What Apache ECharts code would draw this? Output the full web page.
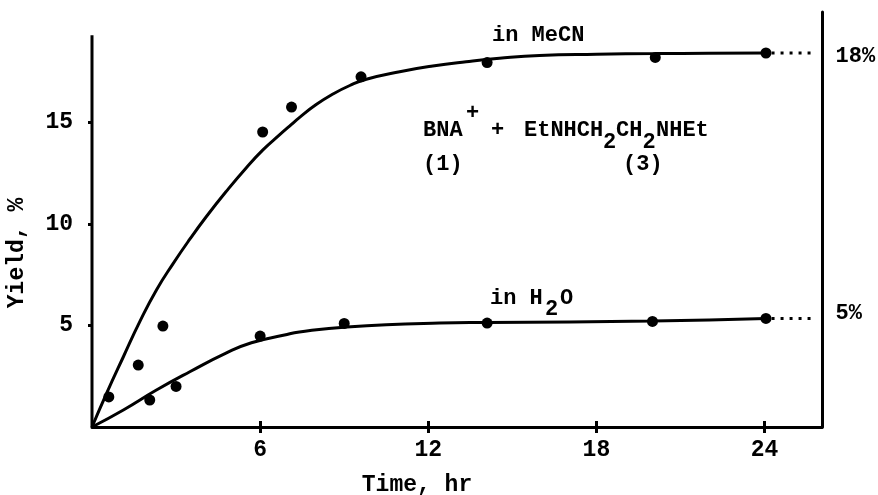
<!DOCTYPE html>
<html>
<head>
<meta charset="utf-8">
<script src="https://cdn.jsdelivr.net/npm/echarts@6/dist/echarts.min.js"></script>
<style>
html, body { margin: 0; padding: 0; background: #fff; }
#chart { width: 878px; height: 495px; }
</style>
</head>
<body>
<div id="chart"></div>
<script>
// measured yields (%), time in hr
var mecnPoints = [[0.6, 1.48], [1.65, 3.05], [2.53, 4.97], [6.09, 14.53], [7.12, 15.76], [9.6, 17.25], [14.1, 17.95], [20.1, 18.2], [24.05, 18.42]];
var h2oPoints = [[2.06, 1.33], [3.0, 2.0], [6.0, 4.48], [9.0, 5.1], [14.1, 5.12], [20.0, 5.2], [24.05, 5.35]];

// the hand-drawn curves
var mecnCurve = [[0, 0], [0.52, 1.66], [1.12, 3.46], [1.71, 5.2], [2.3, 6.75], [2.9, 8.06], [3.49, 9.25], [4.09, 10.38], [4.8, 11.62], [5.5, 12.76], [6.1, 13.65], [6.7, 14.4], [7.05, 14.82], [7.41, 15.25], [8.0, 15.88], [8.6, 16.4], [9.2, 16.82], [9.79, 17.13], [10.98, 17.5], [12.16, 17.78], [13.35, 17.99], [14.54, 18.16], [15.97, 18.3], [18.0, 18.36], [20.1, 18.39], [22.0, 18.41], [24.05, 18.42]];
var h2oCurve = [[0, 0], [1.12, 0.84], [2.3, 1.82], [3.49, 2.72], [4.8, 3.65], [5.69, 4.15], [6.87, 4.53], [7.4, 4.68], [9.1, 4.93], [12.4, 5.12], [14.1, 5.15], [20.0, 5.22], [24.05, 5.35]];

// limiting yields, dotted out to the right axis
var finalYields = [18.42, 5.35];
var finalLabels = ['18%', '5%'];

var xTicks = [6, 12, 18, 24];
var yTicks = [5, 10, 15];
var xMax = 26.05;
var yMax = 20.44;
var leftAxisTop = 19.3;

var FONT = 'Liberation Mono, Courier New, monospace';
var ink = '#000';

function txt(str, x, y, size, opts) {
  opts = opts || {};
  var el = {
    type: 'text', x: x, y: y, silent: true,
    style: {
      text: str, fill: ink,
      font: 'bold ' + (size || 22) + 'px ' + FONT,
      align: opts.align || 'left', verticalAlign: 'middle',
      textAlign: opts.align || 'left', textVerticalAlign: 'middle'
    }
  };
  if (opts.rotation) el.rotation = opts.rotation;
  return el;
}

var chart = echarts.init(document.getElementById('chart'));

function dotted(y, label, dy) {
  return {
    type: 'line',
    data: [[24.25, y], [25.75, y]],
    symbol: 'circle', symbolSize: 0,
    label: {
      show: true, position: 'right', distance: 22, offset: [0, dy],
      formatter: function (p) { return p.dataIndex === 1 ? label : ''; },
      color: ink, fontFamily: FONT, fontWeight: 'bold', fontSize: 22
    },
    lineStyle: { color: ink, width: 3, type: [3, 6] },
    itemStyle: { color: ink },
    z: 3
  };
}

function curve(data) {
  return {
    type: 'line', data: data, smooth: 0.5, symbol: 'none',
    lineStyle: { color: ink, width: 3 }
  };
}

function dots(data) {
  return { type: 'scatter', data: data, symbolSize: 11, itemStyle: { color: ink, opacity: 1 }, z: 4 };
}

chart.setOption({
  animation: false,
  backgroundColor: '#fff',
  grid: { left: 92, right: 56, top: 12, bottom: 68 },
  xAxis: [{
    type: 'value', min: 0, max: xMax,
    axisLine: { show: true, onZero: false, lineStyle: { color: ink, width: 3 } },
    axisTick: { show: true, customValues: xTicks, length: 6, lineStyle: { color: ink, width: 3 } },
    axisLabel: { customValues: xTicks, margin: 12, color: ink, fontFamily: FONT, fontWeight: 'bold', fontSize: 23 },
    splitLine: { show: false }
  }, {
    type: 'value', min: 0, max: xMax, position: 'bottom',
    axisLine: { show: false, onZero: false },
    axisTick: { show: true, inside: true, customValues: xTicks, length: 6, lineStyle: { color: ink, width: 3 } },
    axisLabel: { show: false },
    splitLine: { show: false }
  }],
  yAxis: [{
    type: 'value', min: 0, max: yMax, position: 'left',
    axisLine: { show: false, onZero: false },
    axisTick: { show: true, customValues: yTicks, length: 4, lineStyle: { color: ink, width: 3 } },
    axisLabel: { customValues: yTicks, margin: 19, color: ink, fontFamily: FONT, fontWeight: 'bold', fontSize: 23 },
    splitLine: { show: false }
  }, {
    type: 'value', min: 0, max: yMax, position: 'right',
    axisLine: { show: true, onZero: false, lineStyle: { color: ink, width: 3 } },
    axisTick: { show: false },
    axisLabel: { show: false },
    splitLine: { show: false }
  }],
  series: [
    {
      // left axis stops short of the right one
      type: 'line', data: [[0, 0], [0, leftAxisTop]], symbol: 'none',
      lineStyle: { color: ink, width: 3 }
    },
    curve(mecnCurve),
    curve(h2oCurve),
    dots(mecnPoints),
    dots(h2oPoints),
    dotted(finalYields[0], finalLabels[0], 3),
    dotted(finalYields[1], finalLabels[1], -5)
  ],
  graphic: [
    txt('in MeCN', 492, 35),
    txt('BNA', 423, 130),
    txt('+', 466, 113),
    txt('+', 491, 130),
    txt('EtNHCH', 524, 130),
    txt('2', 603, 142),
    txt('CH', 616, 130),
    txt('2', 642.6, 142),
    txt('NHEt', 656, 130),
    txt('(1)', 423, 164),
    txt('(3)', 623, 164),
    txt('in H', 490, 298),
    txt('2', 545, 309),
    txt('O', 560, 298),
    txt('Time, hr', 417, 485, 23, { align: 'center' }),
    txt('Yield, %', 17, 253, 23, { align: 'center', rotation: Math.PI / 2 })
  ]
});
</script>
</body>
</html>
